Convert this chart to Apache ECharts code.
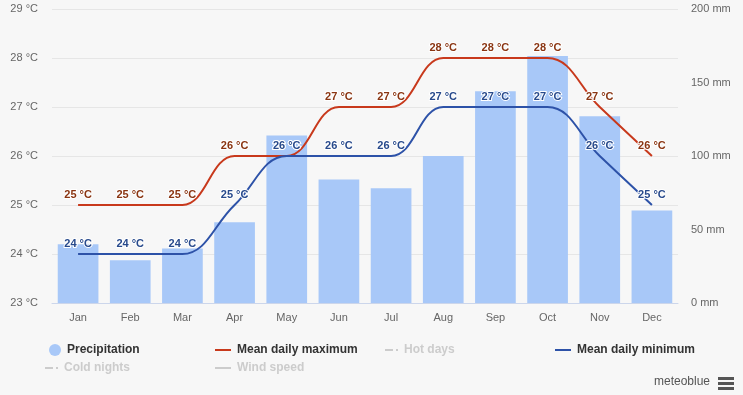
<!DOCTYPE html>
<html>
<head>
<meta charset="utf-8">
<script src="https://cdn.jsdelivr.net/npm/echarts@6/dist/echarts.min.js"></script>
<style>
html,body{margin:0;padding:0;background:#f7f7f7;}
#chart{width:743px;height:395px;}
</style>
</head>
<body>
<div id="chart"></div>
<script>
const months = ['Jan','Feb','Mar','Apr','May','Jun','Jul','Aug','Sep','Oct','Nov','Dec'];
const precipitation = [40, 29, 37, 55, 114, 84, 78, 100, 144, 168, 127, 63];
const meanMax = [25, 25, 25, 26, 26, 27, 27, 28, 28, 28, 27, 26];
const meanMin = [24, 24, 24, 25, 26, 26, 26, 27, 27, 27, 26, 25];
const tempTicks = [23, 29, 1];
const precTicks = [0, 200, 50];

const FONT = '"Liberation Sans", Arial, sans-serif';
const chart = echarts.init(document.getElementById('chart'), null, {renderer: 'canvas'});

const inactive = {'Hot days': false, 'Cold nights': false, 'Wind speed': false};
function leg(name, left, top, icon, w, h) {
  return {
    data: [{name: name, icon: icon}],
    left: left, top: top, itemWidth: w, itemHeight: h, itemGap: 0, padding: 0,
    selected: inactive, inactiveColor: '#cccccc',
    textStyle: {fontFamily: FONT, fontSize: 12, fontWeight: 'bold', color: '#333333', padding: [0,0,0,1]}
  };
}
const lineIcon = 'rect';
const dashDot = 'path://M0,0h8v2h-8z M11,0h2v2h-2z';

function tempLabel(color) {
  return {show: true, position: 'top', distance: 5, formatter: p => p.value + ' °C',
    fontFamily: FONT, fontSize: 11, fontWeight: 'bold', color: color,
    textBorderColor: '#ffffff', textBorderWidth: 2};
}

chart.setOption({
  backgroundColor: '#f7f7f7',
  animation: false,
  grid: {left: 52, right: 65, top: 9, bottom: 92},
  legend: [
    leg('Precipitation', 49, 344, 'circle', 12, 12),
    leg('Mean daily maximum', 215, 344, lineIcon, 16, 2),
    leg('Hot days', 385, 344, dashDot, 13, 2),
    leg('Mean daily minimum', 555, 344, lineIcon, 16, 2),
    leg('Cold nights', 45, 362, dashDot, 13, 2),
    leg('Wind speed', 215, 362, lineIcon, 16, 2)
  ],
  xAxis: {
    type: 'category', data: months, boundaryGap: true,
    axisLine: {lineStyle: {color: '#ccd6eb', width: 1}},
    axisTick: {show: false},
    axisLabel: {fontFamily: FONT, fontSize: 11, color: '#666666', margin: 9}
  },
  yAxis: [
    {
      type: 'value', min: tempTicks[0], max: tempTicks[1], interval: tempTicks[2],
      axisLine: {show: false}, axisTick: {show: false},
      splitLine: {lineStyle: {color: '#e6e6e6', width: 1}},
      axisLabel: {fontFamily: FONT, fontSize: 11, color: '#666666', margin: 14, formatter: v => v + ' °C'}
    },
    {
      type: 'value', min: precTicks[0], max: precTicks[1], interval: precTicks[2],
      axisLine: {show: false}, axisTick: {show: false}, splitLine: {show: false},
      axisLabel: {fontFamily: FONT, fontSize: 11, color: '#666666', margin: 13, formatter: v => v + ' mm'}
    }
  ],
  series: [
    {
      name: 'Precipitation', type: 'bar', yAxisIndex: 1, data: precipitation,
      barCategoryGap: '22%', itemStyle: {color: '#a8c8f8'}, z: 1
    },
    {
      name: 'Mean daily maximum', type: 'line', yAxisIndex: 0, data: meanMax,
      smooth: 0.4, symbol: 'circle', symbolSize: 0.01, showSymbol: true, z: 3,
      lineStyle: {color: '#c8391c', width: 2}, itemStyle: {color: '#c8391c'},
      label: tempLabel('#8a3512')
    },
    {name: 'Hot days', type: 'line', data: [], itemStyle: {color: '#cccccc'}},
    {
      name: 'Mean daily minimum', type: 'line', yAxisIndex: 0, data: meanMin,
      smooth: 0.4, symbol: 'circle', symbolSize: 0.01, showSymbol: true, z: 3,
      lineStyle: {color: '#2d52a8', width: 2}, itemStyle: {color: '#2d52a8'},
      label: tempLabel('#284a8c')
    },
    {name: 'Cold nights', type: 'line', data: [], itemStyle: {color: '#cccccc'}},
    {name: 'Wind speed', type: 'line', data: [], itemStyle: {color: '#cccccc'}}
  ],
  graphic: [
    {type: 'text', right: 33, top: 376, style: {text: 'meteoblue', fontFamily: FONT, fontSize: 12, fill: '#555555'}},
    {type: 'rect', left: 718, top: 377, shape: {width: 16, height: 3}, style: {fill: '#555555'}},
    {type: 'rect', left: 718, top: 382, shape: {width: 16, height: 3}, style: {fill: '#555555'}},
    {type: 'rect', left: 718, top: 387, shape: {width: 16, height: 3}, style: {fill: '#555555'}}
  ]
});
</script>
</body>
</html>
